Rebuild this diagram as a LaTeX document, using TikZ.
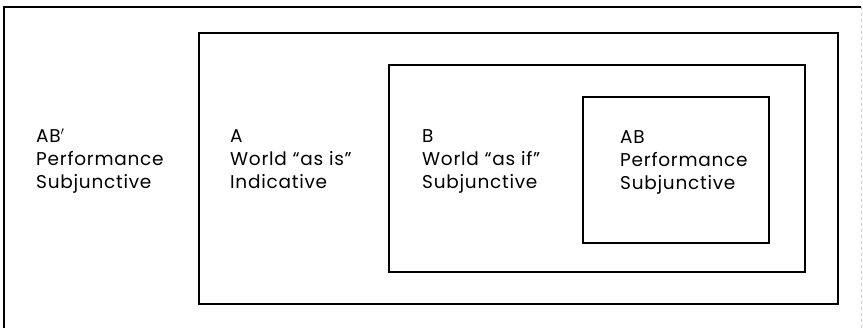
\documentclass[tikz,border=0pt]{standalone}
\usepackage{fontspec}
\setmainfont{Poppins}[LetterSpace=4]

\tikzset{
  frame/.style={line width=1.3pt},
  label text/.style={anchor=base west, align=left, inner sep=0pt,
    font=\fontsize{18.5}{23}\selectfont},
}

\begin{document}
\begin{tikzpicture}[x=1pt,y=-1pt]
  \useasboundingbox (0,0) rectangle (863,327);
  \clip (0,0) rectangle (863,327);

  % Define boxes
  \coordinate (outerNW) at (4,7);
  \coordinate (outerSE) at (861,332);
  \coordinate (aNW) at (199,33);
  \coordinate (aSE) at (838,304);
  \coordinate (bNW) at (389,65);
  \coordinate (bSE) at (805,272);
  \coordinate (abNW) at (583,97);
  \coordinate (abSE) at (769,243);

  % Draw boxes
  \draw[frame] (outerNW |- outerSE) -- (outerNW) -- (outerSE |- outerNW);
  \draw[line width=0.6pt, gray!40, dashed] (outerSE |- outerNW) -- (outerSE);
  \draw[frame] (aNW) rectangle (aSE);
  \draw[frame] (bNW) rectangle (bSE);
  \draw[frame] (abNW) rectangle (abSE);

  % Labels (anchored at the last baseline)
  \node[label text] (abprime) at (36,188) {AB$'$\\Performance\\Subjunctive};
  \node[label text] (a) at (230,188) {A\\World “as is”\\Indicative};
  \node[label text] (b) at (422,188) {B\\World “as if”\\Subjunctive};
  \node[label text] (ab) at (620,189) {AB\\Performance\\Subjunctive};
\end{tikzpicture}
\end{document}
